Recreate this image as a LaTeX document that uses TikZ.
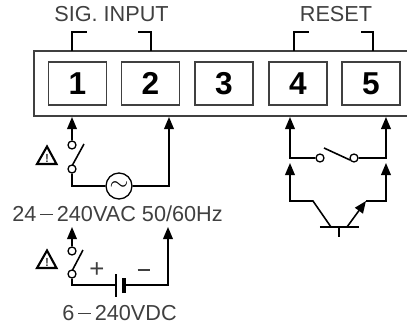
\documentclass[tikz,border=0pt]{standalone}
\usepackage{fontspec}
\setmainfont{Liberation Sans}
\usetikzlibrary{arrows.meta}
\definecolor{inkgray}{gray}{0.25}
\newcommand{\longdash}{\hspace{3.5pt}\raisebox{5.8pt}{\rule{10.5pt}{0.9pt}}\hspace{3.5pt}}
\tikzset{
  termbox/.style={draw=inkgray, line width=1.1pt, minimum width=58*0.3mm, minimum height=43*0.3mm, inner sep=0pt, font=\fontsize{27}{27}\selectfont\bfseries},
  contact/.style={circle, draw, line width=1.1pt, fill=white, minimum size=8*0.3mm, inner sep=0pt},
  wire/.style={line width=1.35pt},
  feed/.style={line width=1.35pt, -{Triangle[length=3.6mm, width=2.9mm]}},
  caption/.style={text=inkgray, font=\fontsize{18.5}{18.5}\selectfont, inner sep=0pt},
  warn/.style={line width=1.8pt, line join=miter}
}

\begin{document}
\begin{tikzpicture}[scale=0.03]
  \useasboundingbox (0,0) rectangle (407,324);

  % Klemmenblock
  \draw[line width=1.8pt, draw=inkgray] (407,273) -- (34,273) -- (34,208) -- (407,208);
  \node[termbox] (t1) at (77.5,240.5) {1};
  \node[termbox] (t2) at (150.5,240.5) {2};
  \node[termbox] (t3) at (224,240.5) {3};
  \node[termbox] (t4) at (298,240.5) {4};
  \node[termbox] (t5) at (371,240.5) {5};

  % Klammern oben
  \draw[wire] (72,273) -- (72,292) -- (87,292);
  \draw[wire] (151,273) -- (151,292) -- (138,292);
  \draw[wire] (294,273) -- (294,292) -- (309,292);
  \draw[wire] (373,273) -- (373,292) -- (361,292);
  \node[caption] (siginput) at (111.5,310) {SIG. INPUT};
  \node[caption] (reset) at (336,309.5) {RESET};

  % Wechselspannung
  \coordinate (tip1) at (72,207);
  \coordinate (tip2) at (169,207);
  \node[contact] (ac1) at (72,179) {};
  \node[contact] (ac2) at (72,155) {};
  \node[circle, draw, line width=1.1pt, minimum size=26*0.3mm, inner sep=0pt, font=\fontsize{22}{22}\selectfont] (acsrc) at (119,138) {$\sim$};
  \coordinate (accorner1) at (72,138);
  \coordinate (accorner2) at (169,138);
  \draw[feed] (ac1) -- (tip1);
  \draw[wire] (ac2) -- (accorner1) -- (acsrc);
  \draw[feed] (acsrc) -- (accorner2) -- (tip2);
  \draw[wire] (72.5,159) -- (84,180);
  \draw[warn] (47,177.5) -- (56.5,160) -- (37,160) -- cycle;
  \node[font=\fontsize{10}{10}\selectfont\bfseries, text=inkgray] (warn1) at (47,166) {!};
  \node[caption] (aclabel) at (117.5,110) {24\longdash 240VAC 50/60Hz};

  % Gleichspannung
  \coordinate (tip3) at (72,97);
  \coordinate (tip4) at (168,97);
  \node[contact] (dc1) at (72,73) {};
  \node[contact] (dc2) at (72,50) {};
  \coordinate (dccorner1) at (72,39);
  \coordinate (dccorner2) at (168,39);
  \coordinate (plate1) at (116,39);
  \coordinate (plate2) at (124,39);
  \draw[feed] (dc1) -- (tip3);
  \draw[wire] (dc2) -- (dccorner1) -- (plate1);
  \draw[feed] (plate2) -- (dccorner2) -- (tip4);
  \draw[line width=1.2pt] (116,27.5) -- (116,50.5);
  \draw[line width=2.8pt] (124,31) -- (124,46);
  \draw[wire] (72.5,54) -- (83,74);
  \draw[warn] (47,73.5) -- (56.5,56) -- (37,56) -- cycle;
  \node[font=\fontsize{10}{10}\selectfont\bfseries, text=inkgray] (warn2) at (47,62) {!};
  \node[caption, font=\fontsize{22}{22}\selectfont] (plus) at (97,54) {+};
  \node[caption] (minus) at (144,54) {\rule{11pt}{0.9pt}};
  \node[caption] (dclabel) at (119.5,11) {6\longdash 240VDC};

  % Reset-Kontakt
  \coordinate (tip5) at (290,207);
  \coordinate (tip6) at (386,207);
  \node[contact] (rs1) at (320,166) {};
  \node[contact] (rs2) at (354,166) {};
  \coordinate (rscorner1) at (290,166);
  \coordinate (rscorner2) at (386,166);
  \draw[feed] (rs1) -- (rscorner1) -- (tip5);
  \draw[feed] (rs2) -- (rscorner2) -- (tip6);
  \draw[wire] (324,176) -- (350,164);

  % Transistor
  \coordinate (tip7) at (290,161);
  \coordinate (tip8) at (386,161);
  \coordinate (col1) at (290,123);
  \coordinate (col2) at (313,123);
  \coordinate (col3) at (331,97);
  \coordinate (emi1) at (347,97);
  \coordinate (emi2) at (366,123);
  \coordinate (emi3) at (386,123);
  \coordinate (baseL) at (320,97);
  \coordinate (baseR) at (359,97);
  \coordinate (baseM) at (339,97);
  \coordinate (baseB) at (339,87);
  \draw[feed] (col3) -- (col2) -- (col1) -- (tip7);
  \draw[feed] (emi2) -- (emi3) -- (tip8);
  \draw[feed] (emi1) -- (emi2);
  \draw[wire] (baseL) -- (baseR);
  \draw[wire] (baseM) -- (baseB);
\end{tikzpicture}
\end{document}
